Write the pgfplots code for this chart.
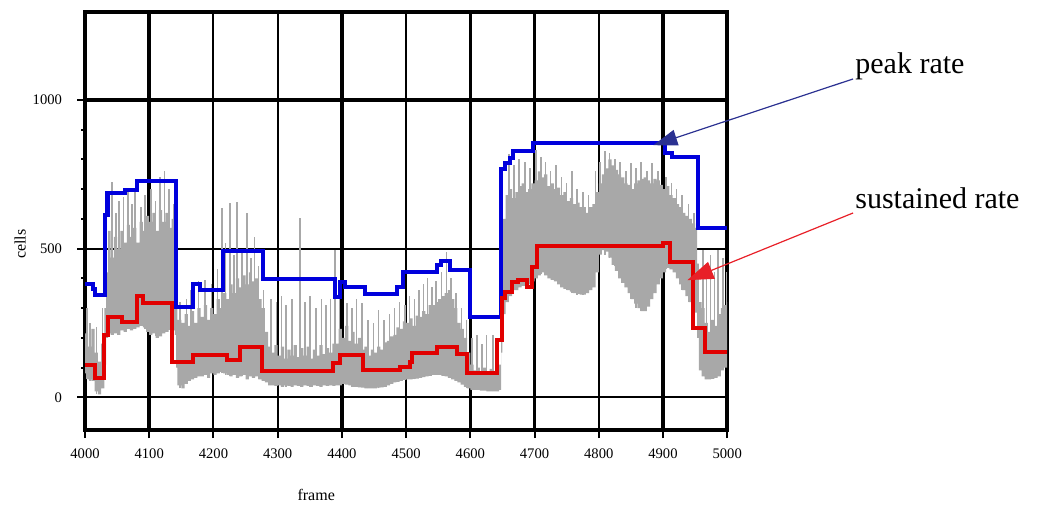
\documentclass[border=0pt]{standalone}
\usepackage{fontspec}
\setmainfont{Liberation Serif}
\usepackage{pgfplots}
\pgfplotsset{compat=1.18}
\usepackage{pgfplotstable}
\usepgfplotslibrary{fillbetween}
\usetikzlibrary{arrows.meta}
\definecolor{pk}{RGB}{0,0,220}
\definecolor{st}{RGB}{225,0,0}
\definecolor{arrblue}{RGB}{43,49,145}
\definecolor{arrred}{RGB}{232,32,40}
\definecolor{band}{RGB}{168,168,168}

% gray band of per-frame cell counts: x, lower, upper
\pgfplotstableread{
x lo hi
4000 80 215
4005 60 170
4010 55 230
4015 20 150
4020 10 120
4025 30 180
4030 110 300
4033 200 420
4036 215 560
4040 210 470
4045 215 540
4050 210 500
4055 225 560
4060 220 520
4065 230 580
4070 225 540
4075 230 570
4080 235 520
4085 240 590
4090 235 560
4095 220 610
4100 210 590
4105 215 620
4110 200 560
4115 205 630
4120 215 590
4125 220 620
4130 230 570
4135 225 600
4140 210 560
4142 100 400
4144 40 260
4150 30 250
4155 45 280
4160 55 240
4165 60 290
4170 65 250
4175 70 300
4180 70 270
4185 75 310
4190 65 260
4195 80 300
4200 75 280
4205 80 330
4210 85 300
4215 80 350
4220 75 330
4225 70 380
4230 75 350
4235 65 400
4240 70 370
4245 75 410
4250 60 380
4255 70 420
4260 65 390
4265 70 400
4270 60 330
4275 55 300
4280 50 220
4285 40 170
4290 40 150
4295 38 175
4300 40 140
4305 35 170
4310 40 130
4315 38 160
4320 35 140
4325 40 175
4330 38 135
4335 35 165
4340 40 140
4345 38 170
4350 35 130
4355 40 160
4360 38 140
4365 35 175
4370 40 145
4375 38 165
4380 40 150
4385 38 180
4390 40 180
4395 40 230
4400 45 200
4405 42 240
4410 40 190
4415 35 220
4420 35 180
4425 33 200
4430 32 160
4435 30 170
4440 30 140
4445 30 160
4450 30 150
4455 32 170
4460 33 160
4465 35 185
4470 40 190
4475 45 205
4480 50 210
4485 52 235
4490 55 230
4495 58 255
4500 60 250
4505 60 265
4510 62 240
4515 63 275
4520 65 270
4525 68 290
4530 70 280
4535 72 310
4540 75 310
4545 75 320
4550 75 330
4555 72 340
4560 70 350
4565 65 360
4570 60 330
4575 55 300
4580 50 250
4585 42 230
4590 35 200
4595 30 150
4600 25 110
4605 25 90
4610 25 100
4615 22 85
4620 22 100
4625 20 80
4630 20 95
4635 20 80
4640 20 90
4645 25 110
4648 150 400
4650 280 600
4655 320 680
4660 340 700
4665 360 670
4670 360 690
4675 370 710
4680 375 720
4685 380 690
4690 380 700
4695 390 720
4700 400 730
4705 410 760
4710 420 740
4715 410 750
4720 400 710
4725 395 720
4730 390 700
4735 380 705
4740 370 680
4745 365 690
4750 360 660
4755 355 670
4760 350 650
4765 348 655
4770 345 640
4775 345 640
4780 350 620
4785 360 640
4790 370 650
4795 420 690
4800 480 720
4805 495 750
4810 490 770
4815 470 800
4820 445 780
4825 425 765
4830 400 750
4835 385 740
4840 370 720
4845 350 715
4850 330 700
4855 315 720
4860 300 730
4865 290 735
4870 290 740
4875 305 730
4880 330 720
4885 350 735
4890 380 730
4895 400 715
4900 420 700
4905 435 710
4910 430 680
4915 420 670
4920 400 650
4925 380 640
4930 360 620
4935 340 610
4940 320 600
4945 300 585
4950 285 570
4953 200 450
4956 90 320
4960 70 300
4965 60 250
4970 60 220
4975 62 260
4980 65 240
4985 70 280
4990 90 300
4995 100 310
5000 120 320
}\bandtab

% thin spikes: x, base, top
\pgfplotstableread{
x lo hi
4003 60 300
4008 55 250
4018 10 235
4027 30 300
4042 215 724
4048 220 620
4053 220 660
4060 225 673
4067 230 700
4073 230 650
4078 235 690
4087 240 640
4093 230 680
4103 215 700
4110 205 660
4117 210 740
4124 220 760
4131 225 700
4138 215 650
4148 30 320
4158 45 330
4165 60 360
4177 70 390
4187 75 394
4197 80 380
4206 80 430
4213 80 636
4219 75 520
4226 70 653
4232 75 480
4237 65 657
4244 70 500
4252 60 620
4258 70 470
4264 65 540
4270 60 440
4278 55 360
4290 40 330
4298 40 320
4306 40 340
4313 35 310
4322 35 330
4335 40 603
4343 40 320
4350 35 340
4360 40 300
4368 35 330
4375 40 310
4382 40 330
4389 40 495
4396 40 330
4408 45 316
4416 35 300
4423 35 330
4431 35 316
4441 30 260
4449 30 250
4457 30 293
4466 35 260
4474 40 280
4482 50 300
4490 55 320
4498 60 310
4505 60 340
4513 60 330
4520 65 360
4527 70 380
4533 70 400
4540 75 370
4547 75 390
4555 75 420
4563 70 488
4570 65 400
4578 55 350
4586 45 300
4594 30 260
4603 25 200
4610 25 209
4618 25 180
4625 25 209
4635 20 209
4642 20 180
4660 370 820
4668 370 780
4676 380 800
4685 390 790
4693 390 770
4702 405 831
4710 415 810
4717 410 790
4725 400 760
4733 390 780
4742 370 740
4750 360 720
4758 350 760
4766 345 700
4775 345 690
4784 350 680
4795 420 760
4802 490 790
4810 480 830
4817 470 821
4825 440 800
4833 400 790
4842 370 760
4850 330 788
4858 300 770
4866 290 790
4875 310 760
4883 340 788
4892 390 760
4905 430 740
4913 430 720
4921 400 700
4930 360 680
4940 320 650
4948 290 620
4962 70 495
4968 60 440
4974 60 480
4980 65 420
4986 70 495
4993 90 470
4999 110 420
}\spiketab

\begin{document}
\begin{tikzpicture}
\begin{axis}[
  scale only axis, width=321pt, height=209pt,
  xmin=4000, xmax=5000, ymin=-111, ymax=1296,
  clip=false,
  axis line style={line width=2pt},
  xtick={4000,4100,...,5000}, ytick={0,500,1000},
  minor y tick num=4,
  tick pos=left, tick align=outside,
  major tick length=4pt, minor tick length=2pt,
  tick style={black, line width=1pt},
  grid=major, grid style={black, line width=1pt},
  extra x ticks={4100,4400,4600,4700,4900}, extra x tick labels={},
  extra x tick style={grid style={black, line width=1.8pt}},
  extra y ticks={1000}, extra y tick labels={},
  extra y tick style={grid style={black, line width=1.8pt}},
  /pgf/number format/1000 sep={},
  /pgf/number format/assume math mode=true,
  ticklabel style={font=\fontsize{7.3}{8}\selectfont},
  xticklabel shift=2pt, yticklabel shift=4pt,
  xlabel={frame}, ylabel={cells},
  x label style={at={(axis description cs:0.36,-0.1555)}, anchor=center, font=\fontsize{8}{9}\selectfont},
  y label style={at={(axis description cs:-0.101,0.445)}, anchor=center, font=\fontsize{8}{9}\selectfont},
]
\path (axis cs:3867.6,1336.7) rectangle (axis cs:5494.9,-367);

\addplot[name path=U, const plot, draw=none, forget plot] table[x=x, y=hi] {\bandtab};
\addplot[name path=L, const plot, draw=none, forget plot] table[x=x, y=lo] {\bandtab};
\addplot[band, draw=none] fill between[of=U and L];

\addplot[draw=none, mark=none,
  error bars/.cd, y dir=plus, y explicit, error mark=none,
  error bar style={band, line width=0.8pt}]
  table[x=x, y=lo, y error plus expr={\thisrow{hi}-\thisrow{lo}}] {\spiketab};

\addplot[const plot, pk, line width=2pt, line join=miter] coordinates {
(4000,380) (4012,365) (4016,345) (4031,613) (4035,687) (4062,697) (4081,727)
(4142,303) (4168,380) (4179,360) (4215,491) (4277,397) (4389,337) (4397,387)
(4405,370) (4436,347) (4486,370) (4495,421) (4548,444) (4555,458) (4568,428)
(4600,270) (4647,768) (4654,788) (4662,805) (4667,828) (4698,855) (4903,821)
(4914,808) (4955,569) (5000,569)};

\addplot[const plot, st, line width=2pt, line join=miter] coordinates {
(4000,108) (4015,64) (4030,209) (4036,270) (4058,252) (4081,340) (4090,316)
(4135,118) (4168,141) (4221,125) (4241,168) (4276,88) (4386,114) (4397,141)
(4433,91) (4491,101) (4506,118) (4509,148) (4548,168) (4580,145) (4595,81)
(4642,192) (4650,333) (4654,355) (4665,387) (4674,394) (4688,370) (4696,437)
(4704,508) (4900,518) (4911,455) (4947,232) (4966,152) (5000,152)};

\node[anchor=base west, font=\fontsize{15}{18}\selectfont, inner sep=0pt] at (axis cs:5199,1091) {peak rate};
\node[anchor=base west, font=\fontsize{15}{18}\selectfont, inner sep=0pt] at (axis cs:5199,636) {sustained rate};
\draw[arrblue, line width=0.6pt, -{Triangle[length=12pt, width=8pt]}] (axis cs:5196,1071) -- (axis cs:4885,848);
\draw[arrred, line width=0.6pt, -{Triangle[length=13pt, width=9pt]}] (axis cs:5196,620) -- (axis cs:4938,394);
\end{axis}
\end{tikzpicture}
\end{document}
